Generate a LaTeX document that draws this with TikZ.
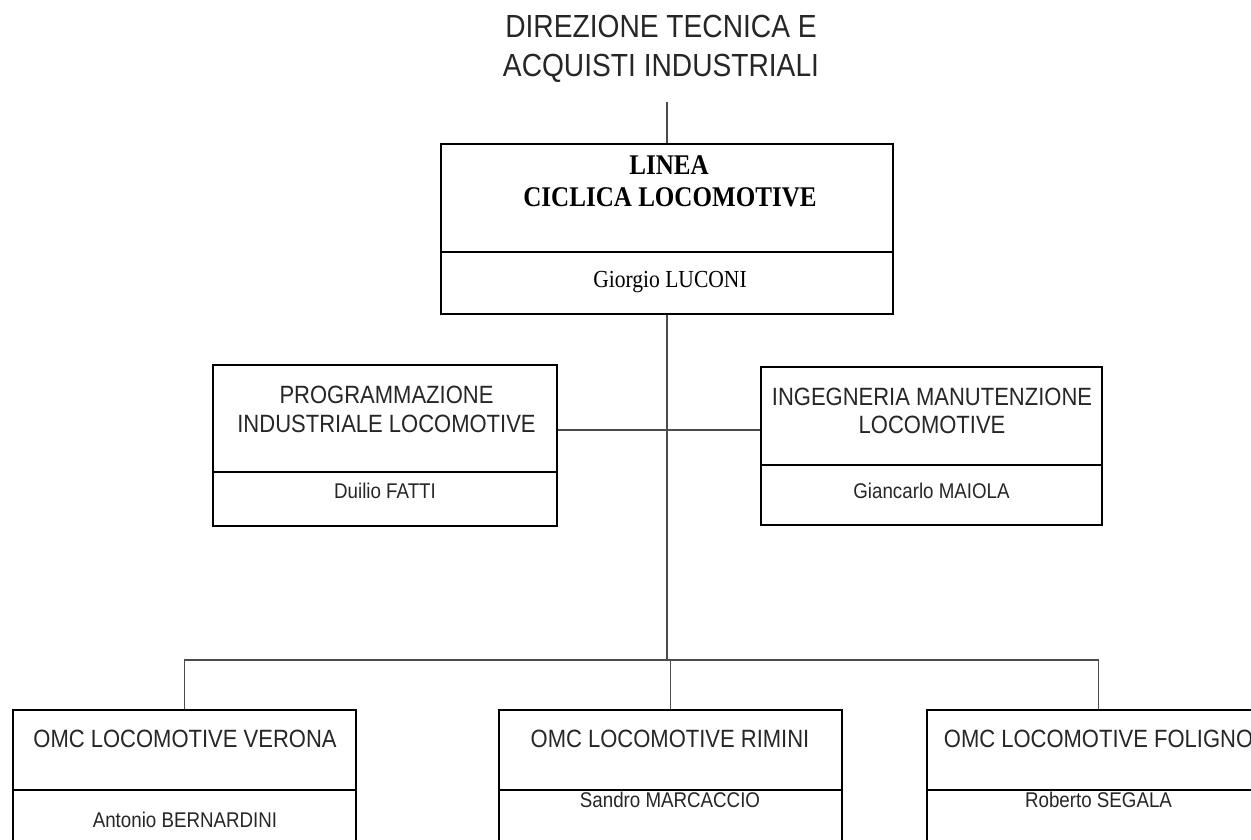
\documentclass[tikz,border=0pt]{standalone}
\usepackage{fontspec}
\setmainfont{Liberation Serif}[FakeStretch=0.88]
\newfontfamily\arialc{Liberation Sans}[FakeStretch=0.88]
\begin{document}
\begin{tikzpicture}[x=1pt,y=-1pt,
  orgbox/.style={draw=black,line width=1.3pt,rectangle,inner sep=0pt},
  divline/.style={draw=black,line width=1.3pt},
  conn/.style={draw=black!70,line width=1.4pt},
  ttltext/.style={anchor=base,inner sep=0pt,font=\arialc\fontsize{32}{39}\selectfont,text=black!85},
  headtext/.style={anchor=base,inner sep=0pt,font=\arialc\fontsize{25}{30}\selectfont,text=black!85},
  nametext/.style={anchor=base,inner sep=0pt,font=\arialc\fontsize{21.3}{26}\selectfont,text=black!85},
  sheadtext/.style={anchor=base,inner sep=0pt,font=\bfseries\fontsize{28.5}{32}\selectfont},
  snametext/.style={anchor=base,inner sep=0pt,font=\fontsize{24.5}{28}\selectfont}]
\path[use as bounding box] (0,0) rectangle (1251,840);
\clip (0,0) rectangle (1251,840);
% title
\node[ttltext] (t1) at (661,38) {DIREZIONE TECNICA E};
\node[ttltext] (t2) at (661,77) {ACQUISTI INDUSTRIALI};
\coordinate (tl) at (667,102);
% boxes
\node[orgbox,minimum width=452,minimum height=170] (main) at (667,229) {};
\draw[divline] (441,252) -- (893,252);
\node[sheadtext] (m1) at (669,175) {LINEA};
\node[sheadtext] (m2) at (670,207) {CICLICA LOCOMOTIVE};
\node[snametext] (m3) at (670,287) {Giorgio LUCONI};

\node[orgbox,minimum width=344,minimum height=161] (prog) at (385,445.5) {};
\draw[divline] (213,472) -- (557,472);
\node[headtext] (p1) at (386.5,403) {PROGRAMMAZIONE};
\node[headtext] (p2) at (386.5,432) {INDUSTRIALE LOCOMOTIVE};
\node[nametext] (p3) at (385,498) {Duilio FATTI};

\node[orgbox,minimum width=341,minimum height=158] (ing) at (931.5,446) {};
\draw[divline] (761,465) -- (1102,465);
\node[headtext] (i1) at (932,405) {INGEGNERIA MANUTENZIONE};
\node[headtext] (i2) at (932,433) {LOCOMOTIVE};
\node[nametext] (i3) at (931.5,498) {Giancarlo MAIOLA};

\node[orgbox,minimum width=343,minimum height=170] (ver) at (184.5,795) {};
\draw[divline] (13,790) -- (356,790);
\node[headtext] (v1) at (185,747) {OMC LOCOMOTIVE VERONA};
\node[nametext] (v2) at (185,827) {Antonio BERNARDINI};

\node[orgbox,minimum width=343,minimum height=170] (rim) at (670.5,795) {};
\draw[divline] (499,790) -- (842,790);
\node[headtext] (r1) at (670,747) {OMC LOCOMOTIVE RIMINI};
\node[nametext] (r2) at (670,807) {Sandro MARCACCIO};

\node[orgbox,minimum width=343,minimum height=170] (fol) at (1098.5,795) {};
\draw[divline] (927,790) -- (1270,790);
\node[headtext] (f1) at (1098.5,747) {OMC LOCOMOTIVE FOLIGNO};
\node[nametext] (f2) at (1098.5,807) {Roberto SEGALA};

% connectors
\coordinate (h) at (0,430);
\coordinate (bus) at (667,660);
\draw[conn] (tl) -- (main.north);
\draw[conn] (main.south) -- (bus);
\draw[conn] (prog.east |- h) -- (ing.west |- h);
\draw[conn] (ver.north) |- (bus) -| (fol.north);
\draw[conn] (rim.north) -- (rim.north |- bus);
\end{tikzpicture}
\end{document}
